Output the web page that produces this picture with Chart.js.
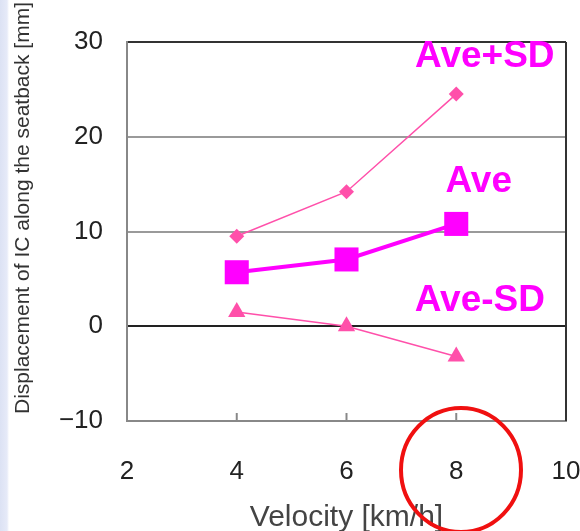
<!DOCTYPE html>
<html><head><meta charset="utf-8">
<script src="https://cdn.jsdelivr.net/npm/chart.js@4"></script>
<style>
html,body{margin:0;padding:0;}
body{width:580px;height:531px;background:linear-gradient(to right,#dce2f4 0,#e6eaf8 7px,#fff 9px);}
#wrap{position:relative;width:580px;height:531px;}
</style></head>
<body><div id="wrap"><canvas id="c" width="580" height="531"></canvas></div>
<script>
const velocity = [4, 6, 8];
const avePlusSD = [9.5, 14.2, 24.5];
const ave = [5.7, 7.05, 10.8];
const aveMinusSD = [1.5, 0.0, -3.2];
const xTicks = [2, 4, 6, 8, 10];
const yTicks = [-10, 0, 10, 20, 30];
const yTickLabels = ['\u221210', '0', '10', '20', '30'];
const seriesLabels = ['Ave+SD', 'Ave', 'Ave-SD'];
const labelAnchors = [[8.52, 28.4], [8.41, 15.2], [8.43, 2.67]];
const yTitle = 'Displacement of IC along the seatback [mm]';

const pts = arr => velocity.map((v, i) => ({x: v, y: arr[i]}));
const FONT = '"Liberation Sans", Arial, sans-serif';

const decor = {
  id: 'decor',
  afterDatasetsDraw(chart) {
    const {ctx, chartArea: a, scales: {x, y}} = chart;
    ctx.save();
    ctx.strokeStyle = '#333'; ctx.lineWidth = 2;
    ctx.beginPath(); ctx.moveTo(a.right, a.top); ctx.lineTo(a.right, a.bottom); ctx.stroke();
    ctx.strokeStyle = '#888'; ctx.lineWidth = 2;
    xTicks.slice(1, -1).forEach(v => {
      const px = x.getPixelForValue(v);
      ctx.beginPath(); ctx.moveTo(px, a.bottom); ctx.lineTo(px, a.bottom - 8); ctx.stroke();
    });
    ctx.fillStyle = '#FF00FF';
    ctx.font = 'bold 37px ' + FONT;
    ctx.textAlign = 'center'; ctx.textBaseline = 'middle';
    seriesLabels.forEach((t, i) => {
      ctx.fillText(t, x.getPixelForValue(labelAnchors[i][0]), y.getPixelForValue(labelAnchors[i][1]));
    });
    // y axis title
    ctx.save();
    ctx.translate(23, 208);
    ctx.rotate(-Math.PI / 2);
    ctx.fillStyle = '#333';
    ctx.font = '21px ' + FONT;
    ctx.fillText(yTitle, 0, 0);
    ctx.restore();
    ctx.restore();
  },
  afterDraw(chart) {
    const {ctx} = chart;
    ctx.save();
    ctx.strokeStyle = '#F01010'; ctx.lineWidth = 4;
    ctx.beginPath(); ctx.ellipse(461, 470, 60, 62, 0, 0, Math.PI * 2); ctx.stroke();
    ctx.restore();
  }
};

new Chart(document.getElementById('c'), {
  type: 'line',
  data: {
    datasets: [
      {label: seriesLabels[0], data: pts(avePlusSD), borderColor: '#FF50AA', backgroundColor: '#FF50AA',
       borderWidth: 1.5, pointStyle: 'rectRot', pointRadius: 7.5, pointBorderWidth: 0},
      {label: seriesLabels[1], data: pts(ave), borderColor: '#FF00FF', backgroundColor: '#FF00FF',
       borderWidth: 4, pointStyle: 'rect', pointRadius: 17, pointBorderWidth: 0},
      {label: seriesLabels[2], data: pts(aveMinusSD), borderColor: '#FF50AA', backgroundColor: '#FF50AA',
       borderWidth: 1.5, pointStyle: 'triangle', pointRadius: 10, pointBorderWidth: 0}
    ]
  },
  options: {
    responsive: false, animation: false, devicePixelRatio: 1,
    layout: {autoPadding: false, padding: {left: 0, top: 42, right: 14, bottom: 0}},
    plugins: {legend: {display: false}, tooltip: {enabled: false}},
    scales: {
      x: {
        type: 'linear', min: 2, max: 10,
        afterBuildTicks: s => { s.ticks = xTicks.map(v => ({value: v})); },
        afterFit: s => { s.height = 110; s.paddingLeft = 0; s.paddingRight = 0; },
        grid: {display: false},
        border: {display: true, color: '#888', width: 2},
        ticks: {padding: 27, color: '#222', font: {family: FONT, size: 26}, maxRotation: 0, minRotation: 0},
        title: {display: true, text: 'Velocity [km/h]', color: '#444', padding: {top: 0, bottom: -5},
                font: {family: FONT, size: 30}}
      },
      y: {
        min: -10, max: 30,
        afterBuildTicks: s => { s.ticks = yTicks.map(v => ({value: v})); },
        afterFit: s => { s.width = 127; s.paddingTop = 0; s.paddingBottom = 0; },
        grid: {drawTicks: false, lineWidth: 2,
               color: c => { const v = c.tick.value; return v === 0 ? '#222' : v === 30 ? '#333' : '#9a9a9a'; }},
        border: {display: true, color: '#888', width: 2},
        ticks: {padding: 24, color: '#222', font: {family: FONT, size: 26},
                callback: v => yTickLabels[yTicks.indexOf(v)]},
        title: {display: false}
      }
    }
  },
  plugins: [decor]
});
</script>
</body></html>
